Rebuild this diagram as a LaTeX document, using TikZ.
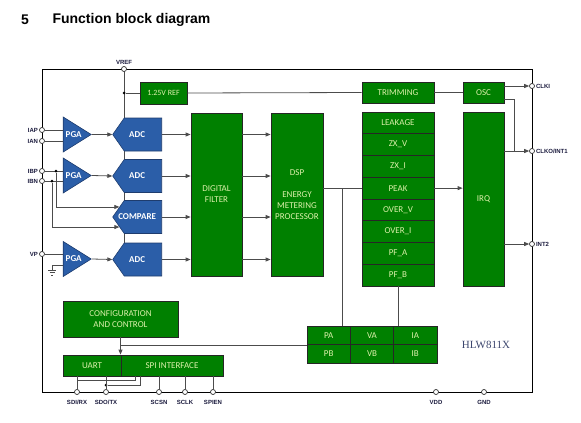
\documentclass[tikz,border=0pt]{standalone}
\usepackage{fontspec}
\setsansfont{Liberation Sans}
\newfontfamily\boxfont{Carlito}
\newfontfamily\chipfont{Liberation Serif}
\usepackage{tikz}
\usetikzlibrary{positioning, arrows.meta, shapes.geometric, shapes.symbols, calc}

\definecolor{blockgreen}{RGB}{0,128,0}
\definecolor{blockblue}{RGB}{43,94,168}
\definecolor{blueedge}{RGB}{30,60,110}
\definecolor{blocktext}{RGB}{220,240,170}
\definecolor{pintext}{RGB}{25,25,60}
\definecolor{chiptext}{RGB}{60,70,110}

\tikzset{
    wire/.style={draw=black!70, line width=0.8pt},
    arrowwire/.style={wire, -{Triangle[length=5pt,width=4pt]}},
    greenbox/.style={draw=black!85, fill=blockgreen, text=blocktext, line width=0.8pt,
        inner sep=0pt, align=center, font=\boxfont\fontsize{9}{11}\selectfont},
    pgabox/.style={isosceles triangle, isosceles triangle stretches, shape border rotate=0,
        draw=blueedge, fill=blockblue, text=white, inner sep=0pt, line width=0.6pt,
        minimum width=35pt, minimum height=28pt, font=\boxfont\bfseries\fontsize{9}{9}\selectfont},
    adcbox/.style={signal, signal to=west, signal pointer angle=110,
        draw=blueedge, fill=blockblue, inner sep=0pt, line width=0.6pt,
        minimum width=49pt, minimum height=33pt},
    adctext/.style={text=white, inner sep=0pt, font=\boxfont\bfseries\fontsize{9}{9}\selectfont},
    pin/.style={circle, draw=black!80, fill=white, inner sep=0pt, minimum size=5pt, line width=0.7pt},
    pinlabel/.style={font=\sffamily\bfseries\fontsize{6}{6}\selectfont, text=pintext, inner sep=1pt},
    joint/.style={circle, fill=black, inner sep=0pt, minimum size=3pt},
}

\begin{document}
\begin{tikzpicture}[x=1pt, y=-1pt]
        \useasboundingbox (0,0) rectangle (581,423);

        % heading
        \node[font=\sffamily\bfseries\fontsize{14}{14}\selectfont] (secnum) at (25,20) {5};
        \node[anchor=west, font=\sffamily\bfseries\fontsize{14}{14}\selectfont] (title) at (49,20) {Function block diagram};

        % border
        \draw[black, line width=0.9pt] (42,69) rectangle (532,392);

        % analog front end
        \node[pgabox, anchor=apex] (pga1) at (92,134.5) {PGA};
        \node[pgabox, anchor=apex] (pga2) at (92,175.5) {PGA};
        \node[pgabox, anchor=apex] (pga3) at (92,259) {PGA};

        \draw[wire] (124,69) -- (124,243);

        \foreach \a/\y/\txt in {adc1/134.5/ADC, adc2/176/ADC, compare/217/COMPARE, adc3/259.5/ADC}
        {
            \node[adcbox, anchor=east] (\a) at (162,\y) {};
            \node[adctext] at ($(\a.west)!0.5!(\a.east)$) {\txt};
        }

        % processing blocks
        \node[greenbox, minimum width=47, minimum height=22, font=\boxfont\fontsize{8}{11}\selectfont] (ref) at (163.5,93) {1.25V REF};
        \node[greenbox, minimum width=51, minimum height=163] (filter) at (216.5,194.5) {DIGITAL\\FILTER};
        \node[greenbox, minimum width=52, minimum height=163] (dsp) at (297,194.5) {DSP\\[11pt]ENERGY\\METERING\\PROCESSOR};
        \node[greenbox, minimum width=72, minimum height=21] (trim) at (398,92.5) {TRIMMING};
        \node[greenbox, minimum width=41, minimum height=21] (osc) at (483.5,92.5) {OSC};
        \node[greenbox, minimum width=41, minimum height=174] (irq) at (483.5,199) {IRQ};

        % register stack
        \foreach \name [count=\i] in {LEAKAGE, ZX\_V, ZX\_I, PEAK, OVER\_V, OVER\_I, PF\_A, PF\_B}
        {
            \node[greenbox, minimum width=72, minimum height=21.75] (reg\i) at (398,101.125+21.75*\i) {\name};
        }

        % power registers
        \foreach \upper/\lower/\x in {PA/PB/328.7, VA/VB/372, IA/IB/415.3}
        {
            \node[greenbox, minimum width=43.4, minimum height=18.5] (\upper) at (\x,335.25) {\upper};
            \node[greenbox, minimum width=43.4, minimum height=18.5] (\lower) at (\x,353.75) {\lower};
        }

        \node[greenbox, minimum width=115, minimum height=36] (cfg) at (120.5,319) {CONFIGURATION\\AND CONTROL};
        \node[greenbox, minimum width=58, minimum height=21] (uart) at (92,365.5) {UART};
        \node[greenbox, minimum width=102, minimum height=21] (spi) at (172,365.5) {SPI INTERFACE};

        \node[font=\chipfont\fontsize{11}{11}\selectfont, text=chiptext] (chip) at (486,345) {HLW811X};

        % input pins
        \foreach \pin/\y/\txt in {iap/130/IAP, ian/141/IAN, ibp/171/IBP, ibn/181/IBN, vp/254/VP}
        {
            \node[pin, label={[pinlabel]left:\txt}] (\pin) at (42,\y) {};
        }

        % output pins
        \foreach \pin/\y/\txt in {clki/86/CLKI, clko/151/{CLKO/INT1}, int2/244/INT2}
        {
            \node[pin, label={[pinlabel]right:\txt}] (\pin) at (532,\y) {};
        }

        % bottom pins
        \foreach \pin/\x/\txt in {sdi/77/{SDI/RX}, sdo/106/{SDO/TX}, scsn/159/SCSN, sclk/185/SCLK, spien/213/SPIEN, vdd/436/VDD, gnd/484/GND}
        {
            \node[pin, label={[pinlabel, label distance=4pt]below:\txt}] (\pin) at (\x,392) {};
        }

        \node[pin, label={[pinlabel]above:VREF}] (vref) at (124,69) {};

        % inputs to amplifiers
        \draw[wire] (iap) -- (pga1.west |- iap);
        \draw[wire] (ian) -- (pga1.west |- ian);
        \draw[wire] (ibp) -- (pga2.west |- ibp);
        \draw[wire] (ibn) -- (pga2.west |- ibn);
        \draw[wire] (vp) -- (pga3.west |- vp);

        \node[joint] (ibpdot) at (56,171) {};
        \node[joint] (ibndot) at (52,181) {};
        \draw[arrowwire] (ibpdot) |- (compare.157);
        \draw[arrowwire] (ibndot) |- (compare.203);

        % ground of the voltage channel
        \coordinate (gndtap) at (52,270);
        \draw[wire] ($(pga3.west)+(0,6)$) -| (gndtap);
        \draw[wire] (48,270) -- (56,270) (49.5,272.5) -- (54.5,272.5) (51,275) -- (53,275);

        % amplifiers to converters to filter to dsp
        \foreach \p/\a in {pga1/adc1, pga2/adc2, pga3/adc3}
        {
            \draw[arrowwire] (\p.apex) -- (\a.west);
        }
        \foreach \a in {adc1, adc2, compare, adc3}
        {
            \draw[arrowwire] (\a.east) -- (filter.west |- \a.east);
            \draw[arrowwire] (filter.east |- \a.east) -- (dsp.west |- \a.east);
        }

        % reference and clock
        \node[joint] (vrefdot) at (124,93) {};
        \draw[wire] (vrefdot) -- (ref.west);
        \draw[wire] (ref.east) -- (trim.west);
        \draw[wire] (trim.east) -- (osc.west);
        \draw[arrowwire] (osc.east |- clki) -- (clki);
        \coordinate (clkjoin) at (514,151);
        \draw[wire] ($(osc.east)+(0,6.5)$) -| (clkjoin);
        \draw[arrowwire] (irq.east |- clko) -- (clko);
        \draw[arrowwire] (irq.east |- int2) -- (int2);

        % dsp outputs
        \coordinate (dspjoin) at (342,188);
        \draw[wire] (dsp.east |- reg4) -- (reg4.west);
        \draw[wire] (dspjoin) -- (dspjoin |- PA.north);
        \draw[arrowwire] (reg4.east) -- (irq.west |- reg4);
        \draw[wire] (reg8.south) -- (reg8.south |- IA.north);
        \draw[wire] (PA.south west) -- (cfg.south |- PA.south west);
        \draw[arrowwire] (cfg.south) -- (cfg.south |- uart.north);

        % serial interface wiring
        \coordinate (rxsplit) at (77,380);
        \node[joint] (txdot) at (106,385) {};
        \draw[wire] (sdi) -- (sdi |- uart.south);
        \draw[wire] (sdo) -- (sdo |- uart.south);
        \draw[wire] (rxsplit) -| ($(spi.south west)+(15,0)$);
        \draw[wire] (txdot) -| ($(spi.south west)+(20,0)$);
        \foreach \pin in {scsn, sclk, spien}
        {
            \draw[wire] (\pin) -- (\pin |- spi.south);
        }
    \end{tikzpicture}
\end{document}
